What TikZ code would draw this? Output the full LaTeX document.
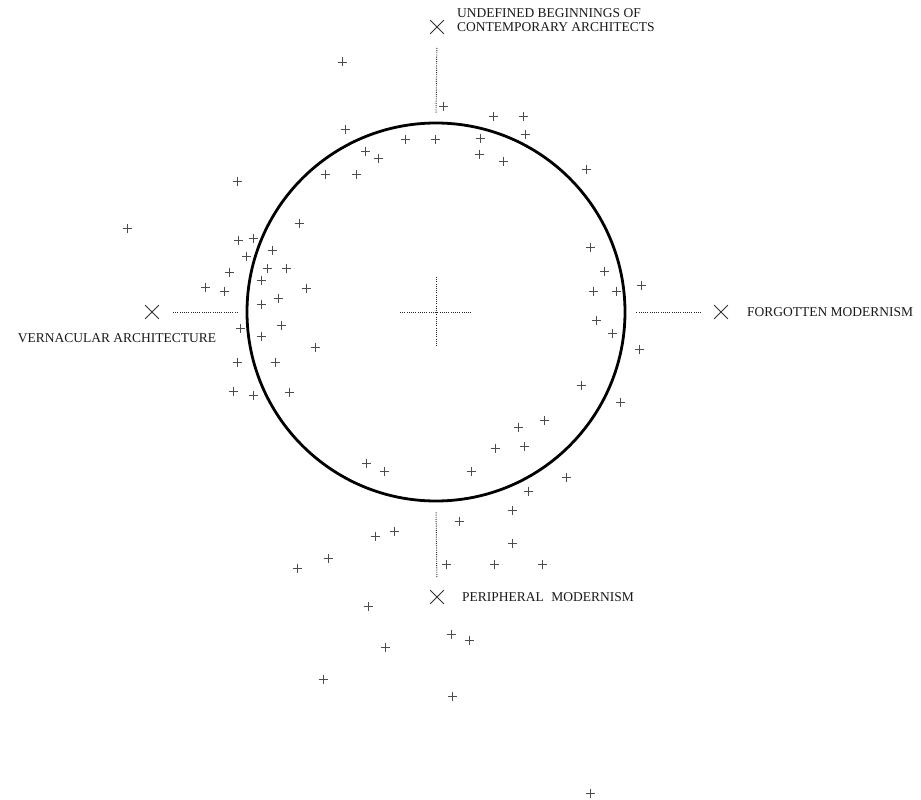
\documentclass[tikz,border=0pt]{standalone}
\usepackage{fontspec}
\setmainfont{Liberation Serif}
\usepackage{xcolor}
\usepackage{tikz}
\usetikzlibrary{shapes.misc,positioning,calc}

\begin{document}
\begin{tikzpicture}[
    x=1pt, y=-1pt,
    ring/.style={draw, circle, line width=2.8pt, minimum size=378pt, inner sep=0pt},
    xmark/.style={draw=black!80, cross out, line width=0.8pt, minimum size=13pt, inner sep=0pt},
    lbl/.style={font=\fontsize{13.5}{14.5}\selectfont, text=black!90, inner sep=0pt, align=left},
    guide/.style={draw=black!85, line width=1pt, dash pattern=on 0.9pt off 1.3pt},
    plus/.style={draw=black!70, line width=0.7pt}
]
\useasboundingbox (0,0) rectangle (921,800);

% ---- main circle ----
\node[ring] (ring) at (436,312) {};

% ---- centre cross ----
\draw[guide] ([xshift=-36pt]ring.center) -- ([xshift=36pt]ring.center);
\draw[guide] ([yshift=35pt]ring.center) -- ([yshift=-35pt]ring.center);

% ---- poles ----
\node[xmark] (topX) at (437,27) {};
\node[lbl, right=13pt of topX, yshift=7pt] (topL) {UNDEFINED BEGINNINGS OF\\ CONTEMPORARY ARCHITECTS};

\node[xmark] (rightX) at (721,312) {};
\node[lbl, right=19pt of rightX] (rightL) {FORGOTTEN MODERNISM};

\node[xmark] (bottomX) at (437,597) {};
\node[lbl, right=18pt of bottomX] (bottomL) {PERIPHERAL\hspace{0.55em}MODERNISM};

\node[xmark] (leftX) at (152,312) {};
\node[lbl] (leftL) at (117,338) {VERNACULAR ARCHITECTURE};

% Relations
\draw[guide, shorten <=9pt, shorten >=13pt] (ring.north) -- (topX.south);
\draw[guide, shorten <=10pt, shorten >=12pt] (ring.east) -- (rightX.west);
\draw[guide, shorten <=10pt, shorten >=13pt] (ring.south) -- (bottomX.north);
\draw[guide, shorten <=8pt, shorten >=13pt] (ring.west) -- (leftX.east);

% ---- scattered works ----
\foreach \px/\py in {342/62, 443/106, 493/116, 523/116, 345/129, 525/134, 405/139, 435/139,
    480/138, 365/151, 378/158, 479/154, 503/161, 325/174, 356/174, 586/169,
    237/181, 127/228, 299/223, 238/240, 253/238, 272/250, 246/256, 267/268, 286/268,
    229/272, 261/280, 205/287, 224/291, 306/288, 278/298, 261/304, 240/328, 281/325,
    261/336, 315/347, 237/362, 275/362, 233/391, 253/395, 289/392,
    590/247, 604/271, 593/291, 616/291, 641/285, 596/320, 612/333, 639/349, 581/385, 620/402,
    544/420, 518/427, 495/448, 524/446, 366/463, 384/471, 471/471, 566/477, 528/491,
    512/510, 459/521, 394/531, 375/536, 512/543, 328/558, 297/568, 446/564, 494/564, 542/564,
    368/606, 451/634, 469/640, 385/647, 323/679, 452/696, 590/793}
  \draw[plus] (\px,\py) +(-4.5,0) -- +(4.5,0) +(0,-4.5) -- +(0,4.5);
\end{tikzpicture}
\end{document}
